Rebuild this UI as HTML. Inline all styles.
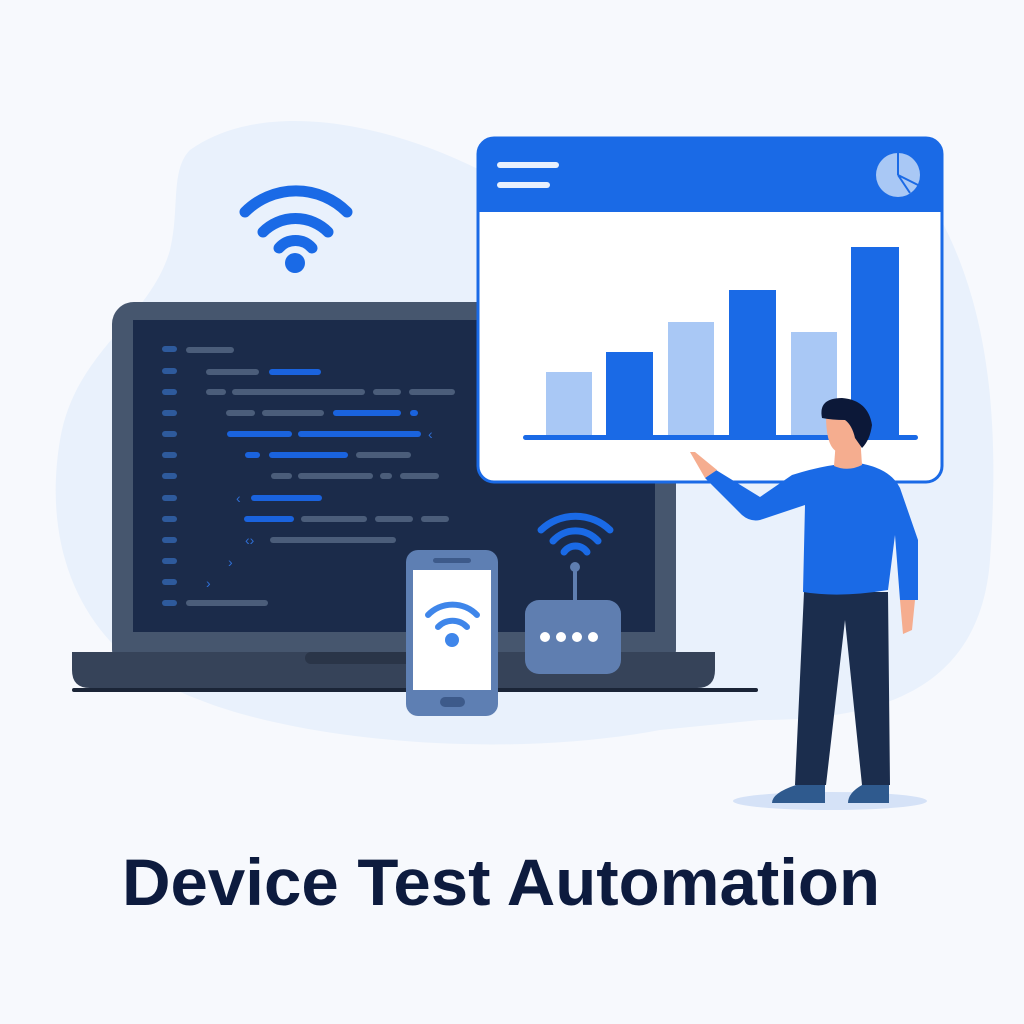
<!DOCTYPE html>
<html><head><meta charset="utf-8"><style>
html,body{margin:0;padding:0;background:#f7f9fd;}
svg{display:block}
</style></head><body>
<svg width="1024" height="1024" viewBox="0 0 1024 1024" xmlns="http://www.w3.org/2000/svg">
<rect width="1024" height="1024" fill="#f7f9fd"/>
<path d="M190 150 C260 100 380 120 480 170 L930 200 C990 300 1000 420 990 560 C980 690 880 720 760 720 L660 730 C500 760 300 740 200 700 C90 660 40 560 60 440 C75 350 150 320 170 250 C180 210 170 170 190 150 Z" fill="#e9f1fc"/>
<!-- wifi top -->
<g fill="none" stroke="#1a6ae6" stroke-width="11" stroke-linecap="round">
<path d="M245 212 A72 72 0 0 1 347 212"/>
<path d="M263 232 A46 46 0 0 1 328 232"/>
<path d="M279 248 A22 22 0 0 1 312 248"/>
</g>
<circle cx="295" cy="263" r="10" fill="#1a6ae6"/>
<!-- laptop -->
<rect x="112" y="302" width="564" height="370" rx="22" fill="#46566e"/>
<rect x="133" y="320" width="522" height="312" fill="#1b2b4a"/>
<path d="M72 652 H715 V670 Q715 688 697 688 H90 Q72 688 72 670 Z" fill="#364359"/>
<rect x="305" y="652" width="115" height="12" rx="6" fill="#2a3548"/>
<rect x="72" y="688" width="686" height="4" rx="2" fill="#1b2537"/>
<g stroke-linecap="round" stroke-width="6">
<g stroke="#2e5a9c">
<line x1="165" y1="349" x2="174" y2="349"/><line x1="165" y1="371" x2="174" y2="371"/><line x1="165" y1="392" x2="174" y2="392"/><line x1="165" y1="413" x2="174" y2="413"/><line x1="165" y1="434" x2="174" y2="434"/><line x1="165" y1="455" x2="174" y2="455"/><line x1="165" y1="476" x2="174" y2="476"/><line x1="165" y1="498" x2="174" y2="498"/><line x1="165" y1="519" x2="174" y2="519"/><line x1="165" y1="540" x2="174" y2="540"/><line x1="165" y1="561" x2="174" y2="561"/><line x1="165" y1="582" x2="174" y2="582"/><line x1="165" y1="603" x2="174" y2="603"/>
</g>
<g stroke="#4b5d7a">
<line x1="189" y1="350" x2="231" y2="350"/>
<line x1="209" y1="372" x2="256" y2="372"/>
<line x1="209" y1="392" x2="223" y2="392"/><line x1="235" y1="392" x2="362" y2="392"/><line x1="376" y1="392" x2="398" y2="392"/><line x1="412" y1="392" x2="452" y2="392"/>
<line x1="229" y1="413" x2="252" y2="413"/><line x1="265" y1="413" x2="321" y2="413"/>
<line x1="359" y1="455" x2="408" y2="455"/>
<line x1="274" y1="476" x2="289" y2="476"/><line x1="301" y1="476" x2="370" y2="476"/><line x1="383" y1="476" x2="389" y2="476"/><line x1="403" y1="476" x2="436" y2="476"/>
<line x1="304" y1="519" x2="364" y2="519"/><line x1="378" y1="519" x2="410" y2="519"/><line x1="424" y1="519" x2="446" y2="519"/>
<line x1="273" y1="540" x2="393" y2="540"/>
<line x1="189" y1="603" x2="265" y2="603"/>
</g>
<g stroke="#1a63de">
<line x1="272" y1="372" x2="318" y2="372"/>
<line x1="336" y1="413" x2="398" y2="413"/><line x1="413" y1="413" x2="415" y2="413"/>
<line x1="230" y1="434" x2="289" y2="434"/><line x1="301" y1="434" x2="418" y2="434"/>
<line x1="248" y1="455" x2="257" y2="455"/><line x1="272" y1="455" x2="345" y2="455"/>
<line x1="254" y1="498" x2="319" y2="498"/>
<line x1="247" y1="519" x2="291" y2="519"/>
</g>
</g>
<g fill="#2f6fd6" font-family="Liberation Sans, sans-serif" font-size="14">
<text x="428" y="439">‹</text><text x="236" y="503">‹</text><text x="245" y="545">‹›</text><text x="228" y="567">›</text><text x="206" y="588">›</text>
</g>
<!-- chart window -->
<rect x="478" y="138" width="464" height="344" rx="16" fill="#fff" stroke="#1a6ae6" stroke-width="3"/>
<path d="M478 154 Q478 138 494 138 H926 Q942 138 942 154 V212 H478 Z" fill="#1a6ae6"/>
<rect x="497" y="162" width="62" height="6" rx="3" fill="#e8f0fd"/>
<rect x="497" y="182" width="53" height="6" rx="3" fill="#e8f0fd"/>
<circle cx="898" cy="175" r="22" fill="#a9c8f5"/>
<path d="M898 175 V153 M898 175 L918 185 M898 175 L910 193" stroke="#1a6ae6" stroke-width="2" fill="none"/>
<rect x="546" y="372" width="46" height="64" fill="#a9c8f5"/>
<rect x="606" y="352" width="47" height="84" fill="#1a6ae6"/>
<rect x="668" y="322" width="46" height="114" fill="#a9c8f5"/>
<rect x="729" y="290" width="47" height="146" fill="#1a6ae6"/>
<rect x="791" y="332" width="46" height="104" fill="#a9c8f5"/>
<rect x="851" y="247" width="48" height="189" fill="#1a6ae6"/>
<rect x="523" y="435" width="395" height="5" rx="2.5" fill="#1a6ae6"/>
<!-- phone -->
<rect x="406" y="550" width="92" height="166" rx="12" fill="#5e7fb3"/>
<rect x="413" y="570" width="78" height="120" fill="#fff"/>
<rect x="433" y="558" width="38" height="5" rx="2.5" fill="#3d5a8a"/>
<rect x="440" y="697" width="25" height="10" rx="5" fill="#3d5a8a"/>
<g fill="none" stroke="#3f86ea" stroke-width="6" stroke-linecap="round">
<path d="M428 615 A34 34 0 0 1 477 615"/><path d="M438 627 A20 20 0 0 1 467 627"/>
</g>
<circle cx="452" cy="640" r="7" fill="#3f86ea"/>
<!-- router -->
<line x1="575" y1="566" x2="575" y2="602" stroke="#5f7eb0" stroke-width="4"/>
<circle cx="575" cy="567" r="5" fill="#5f7eb0"/>
<rect x="525" y="600" width="96" height="74" rx="14" fill="#5f7eb0"/>
<g fill="#fff"><circle cx="545" cy="637" r="5"/><circle cx="561" cy="637" r="5"/><circle cx="577" cy="637" r="5"/><circle cx="593" cy="637" r="5"/></g>
<g fill="none" stroke="#1a6ae6" stroke-width="7" stroke-linecap="round">
<path d="M541 530 A50 50 0 0 1 610 530"/><path d="M553 541 A30 30 0 0 1 598 541"/><path d="M564 552 A14 14 0 0 1 587 552"/>
</g>
<!-- person -->
<ellipse cx="830" cy="801" rx="97" ry="9" fill="#d5e2f7"/>
<path d="M804 592 L888 592 L890 785 L862 785 L845 620 L826 785 L795 785 Z" fill="#1b2d4d"/>
<path d="M796 785 L825 785 L825 803 L772 803 Q772 793 796 785 Z" fill="#2f5a8e"/>
<path d="M862 785 L889 785 L889 803 L848 803 Q848 793 862 785 Z" fill="#2f5a8e"/>
<path d="M792 475 Q830 463 858 463 Q890 468 900 488 L918 540 L918 600 L900 600 L895 535 L888 590 Q840 598 803 592 L805 505 L760 520 Q750 522 742 515 L705 478 L716 470 L760 497 Z" fill="#1a6ae6"/>
<path d="M900 600 L915 600 L912 630 L903 634 Z" fill="#f5ad8f"/>
<path d="M705 478 L690 452 L695 452 L717 470 Z" fill="#f5ad8f"/>
<path d="M836 440 L834 466 Q848 472 862 465 L860 435 Z" fill="#f5ad8f"/>
<path d="M826 415 Q826 448 838 452 L856 448 L862 430 L850 410 Z" fill="#f5ad8f"/>
<path d="M822 418 Q818 398 842 398 Q868 400 872 425 Q870 440 862 448 L855 438 Q852 425 845 420 Q832 420 822 418 Z" fill="#0c1838"/>
<text x="122" y="905" textLength="758" lengthAdjust="spacingAndGlyphs" font-family="Liberation Sans, sans-serif" font-weight="bold" font-size="66" fill="#0d1b3e">Device Test Automation</text>
</svg>
</body></html>
